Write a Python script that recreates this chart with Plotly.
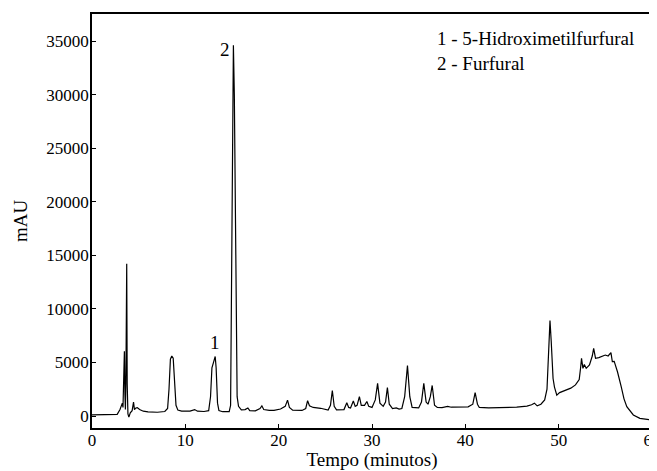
import plotly.graph_objects as go

time_min = [0.0, 1.0, 2.0, 2.7, 3.0, 3.15, 3.25, 3.32, 3.40, 3.47, 3.53, 3.58, 3.63, 3.68, 3.72, 3.77,
            3.85, 3.95, 4.1, 4.3, 4.45, 4.55, 4.7, 4.85, 5.1, 5.5, 6.0, 7.0, 7.8, 8.1, 8.25, 8.4,
            8.55, 8.7, 8.85, 9.0, 9.2, 9.6, 10.5, 11.0, 11.3, 12.0, 12.5, 12.7, 12.85, 12.95, 13.05,
            13.2, 13.3, 13.45, 13.6, 14.0, 14.7, 14.85, 14.95, 15.05, 15.15, 15.25, 15.35, 15.45,
            15.55, 15.7, 16.0, 16.4, 16.7, 16.9, 17.5, 18.0, 18.2, 18.4, 19.0, 19.5, 20.2, 20.7,
            20.95, 21.15, 21.5, 22.5, 22.9, 23.1, 23.3, 23.7, 24.5, 25.3, 25.55, 25.75, 25.95, 26.2,
            27.0, 27.3, 27.5, 27.7, 28.0, 28.2, 28.4, 28.65, 28.85, 29.2, 29.45, 29.65, 30.0, 30.35,
            30.6, 30.85, 31.2, 31.45, 31.65, 31.85, 32.2, 32.6, 32.9, 33.2, 33.5, 33.8, 34.05, 34.3,
            35.0, 35.3, 35.55, 35.8, 36.0, 36.25, 36.45, 36.7, 37.0, 37.5, 38.1, 38.5, 39.5, 40.3,
            40.8, 41.05, 41.3, 41.5, 42.5, 44.0, 45.5, 46.6, 47.1, 47.4, 47.7, 48.1, 48.5, 48.75,
            48.95, 49.07, 49.2, 49.4, 49.55, 49.8, 50.1, 50.6, 51.3, 51.8, 52.2, 52.35, 52.45, 52.6,
            52.75, 52.95, 53.3, 53.6, 53.75, 53.95, 54.3, 55.0, 55.3, 55.6, 55.75, 55.95, 56.3, 56.7,
            57.0, 57.3, 58.0, 58.7, 59.8, 60.0]
signal_mau = [100, 120, 130, 150, 600, 900, 1200, 800, 3000, 6050, 2000, 600, 3000, 14200, 14200, 3000,
              200, -100, 300, 500, 1300, 600, 750, 780, 600, 450, 380, 350, 420, 700, 2500, 5300,
              5600, 5400, 3000, 1000, 550, 450, 450, 600, 450, 420, 500, 1800, 4500, 4900, 5100,
              5550, 4500, 1200, 500, 400, 400, 1000, 10000, 25000, 34600, 30000, 18000, 6000,
              1800, 900, 580, 600, 750, 500, 480, 700, 950, 600, 520, 530, 650, 900,
              1480, 800, 550, 520, 700, 1430, 950, 800, 720, 560, 1000, 2380, 900, 580,
              600, 1240, 800, 750, 1400, 900, 1000, 1800, 1000, 1000, 1350, 900, 800, 1500,
              3050, 1200, 900, 1300, 2650, 1100, 700, 750, 650, 700, 1800, 4700, 1800, 800,
              750, 1300, 3050, 1300, 1100, 1800, 2850, 1000, 800, 780, 900, 820, 850, 850,
              1100, 2180, 1100, 800, 760, 780, 830, 930, 1050, 1200, 950, 1100, 1500, 2500,
              7000, 8900, 7000, 3500, 2700, 1950, 2180, 2350, 2600, 2900, 3400, 4500, 5380, 4450,
              4800, 4450, 4760, 5600, 6320, 5380, 5450, 5690, 5600, 5910, 5070, 5100, 4130, 2740,
              1600, 870, 100, -220, -370, -380]

peak_labels = ["1", "2"]
peak_label_x = [13.2, 15.15]
peak_label_y = [5550, 34600]
legend_lines = ["1 - 5-Hidroximetilfurfural", "2 - Furfural"]

x_ticks = [0, 10, 20, 30, 40, 50, 60]
y_ticks = [0, 5000, 10000, 15000, 20000, 25000, 30000, 35000]

font_family = "Liberation Serif, Times New Roman, serif"

fig = go.Figure()
fig.add_trace(go.Scatter(x=time_min, y=signal_mau, mode="lines",
                         line=dict(color="black", width=1.2), showlegend=False,
                         hoverinfo="x+y"))

fig.add_annotation(x=peak_label_x[0], y=peak_label_y[0], text=peak_labels[0], showarrow=False,
                   xanchor="center", yanchor="bottom", yshift=2,
                   font=dict(family=font_family, size=19, color="black"))
fig.add_annotation(x=peak_label_x[1], y=peak_label_y[1], text=peak_labels[1], showarrow=False,
                   xanchor="right", yanchor="middle", xshift=-1, yshift=-4,
                   font=dict(family=font_family, size=19, color="black"))
fig.add_annotation(x=0.613, y=0.972, xref="paper", yref="paper",
                   text="<br>".join(legend_lines), showarrow=False, align="left",
                   xanchor="left", yanchor="top",
                   font=dict(family=font_family, size=19, color="black"))

axis_common = dict(showline=True, linecolor="black", linewidth=1.5, mirror=True,
                   ticks="inside", ticklen=4, tickcolor="black", showgrid=False, zeroline=False,
                   automargin=False, ticklabeloverflow="allow",
                   tickfont=dict(family=font_family, size=17, color="black"))

fig.update_xaxes(range=[0, 60], tickvals=x_ticks, ticktext=[str(v) for v in x_ticks],
                 ticklabelstandoff=-4,
                 title=dict(text="Tempo (minutos)", font=dict(family=font_family, size=19, color="black"),
                            standoff=8),
                 **axis_common)
fig.update_yaxes(range=[-1120, 37520], tickvals=y_ticks, ticktext=[str(v) for v in y_ticks],
                 ticklabelstandoff=-2,
                 title=dict(text="mAU", font=dict(family=font_family, size=19, color="black"),
                            standoff=14),
                 **axis_common)

# the page body adds an 8 px offset; margins are set so the frame lands where the reference has it
fig.update_layout(width=657, height=463, margin=dict(l=84, r=13, t=6, b=43),
                  font=dict(family=font_family, color="black"),
                  plot_bgcolor="white", paper_bgcolor="white")

fig.write_html("out.html")
